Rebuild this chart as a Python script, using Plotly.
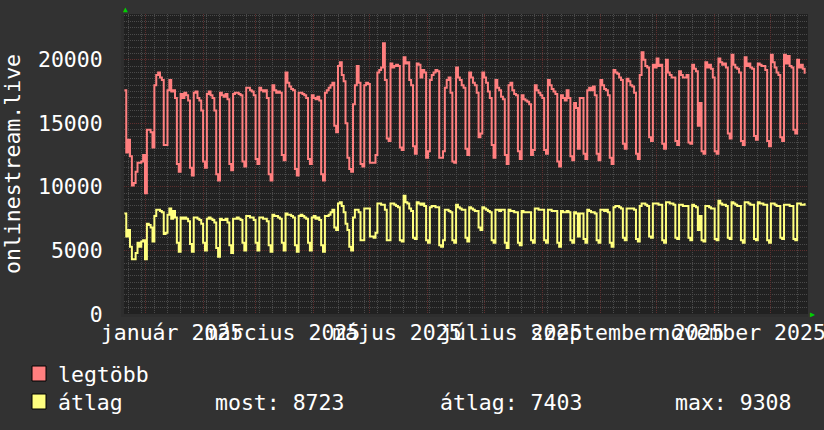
import plotly.graph_objects as go
import pandas as pd

# daily values in thousands, one row per week: Sat, Sun, Mon, Tue, Wed, Thu, Fri
legtobb = [
    17.6, 12.7, 13.7, 12.4, 10.1, 10.3, 11.2,
    11.9, 11.9, 12.0, 12.5, 9.5, 14.5, 14.5,
    14.3, 13.1, 18.0, 18.8, 19.0, 18.6, 18.4,
    13.3, 13.3, 17.6, 18.4, 17.5, 17.6, 17.0,
    11.8, 11.2, 17.3, 17.0, 17.4, 17.2, 16.8,
    11.5, 10.9, 17.4, 17.5, 17.0, 16.8, 16.0,
    12.0, 11.5, 17.3, 17.5, 17.2, 17.0, 16.0,
    11.0, 10.5, 17.4, 17.2, 17.1, 17.3, 16.9,
    11.8, 11.3, 17.3, 17.4, 17.4, 17.3, 17.2,
    12.0, 11.6, 17.8, 17.8, 17.6, 17.5, 17.2,
    12.2, 11.8, 17.8, 17.6, 17.5, 17.6, 17.0,
    11.0, 10.5, 18.0, 17.6, 17.4, 17.5, 17.4,
    12.5, 12.1, 19.0, 18.2, 17.9, 17.7, 17.6,
    11.4, 10.9, 17.4, 17.4, 17.3, 17.2, 17.0,
    12.2, 11.8, 17.2, 17.0, 16.9, 17.1, 16.8,
    11.0, 10.5, 17.4, 17.6, 17.8, 18.0, 18.2,
    14.8, 14.3, 19.5, 19.8, 18.8, 18.3, 15.0,
    12.3, 11.4, 11.2, 16.5, 18.0, 19.5, 18.2,
    11.8, 11.6, 18.0, 18.2, 18.1, 11.9, 11.9,
    11.9, 12.5, 19.0, 19.2, 19.4, 21.3, 18.4,
    13.8, 13.6, 19.7, 19.4, 19.5, 19.6, 19.5,
    13.1, 12.9, 20.2, 19.7, 19.8, 18.4, 18.0,
    13.2, 12.6, 19.7, 19.6, 18.6, 19.2, 19.0,
    12.3, 12.8, 18.4, 18.8, 19.0, 19.2, 19.1,
    12.3, 12.3, 12.8, 17.8, 18.4, 18.6, 17.4,
    12.0, 11.9, 19.4, 18.6, 18.4, 18.0, 17.8,
    13.0, 12.5, 19.0, 18.6, 18.2, 18.0, 17.4,
    13.9, 14.2, 19.0, 18.6, 18.2, 17.5, 17.0,
    13.3, 12.3, 18.4, 17.8, 17.6, 17.1, 16.9,
    12.5, 11.8, 18.0, 18.2, 17.6, 17.3, 17.2,
    12.8, 12.2, 17.2, 16.9, 16.8, 16.7, 16.5,
    12.5, 12.9, 18.0, 17.6, 17.4, 17.2, 17.0,
    12.9, 12.6, 18.4, 18.0, 17.7, 17.5, 17.3,
    12.0, 11.6, 17.2, 17.0, 16.8, 17.6, 17.0,
    12.4, 12.1, 16.6, 16.2, 13.0, 17.0, 17.0,
    12.6, 12.2, 17.6, 17.8, 17.6, 17.9, 17.2,
    12.6, 12.1, 18.4, 18.0, 17.7, 17.6, 17.2,
    12.3, 11.8, 19.2, 19.0, 18.9, 18.6, 18.4,
    13.4, 13.0, 18.5, 18.3, 18.0, 17.9, 17.4,
    12.6, 12.2, 18.8, 20.6, 20.0, 19.5, 19.4,
    13.9, 13.6, 19.6, 19.4, 20.1, 19.5, 19.6,
    13.4, 13.0, 20.0, 19.0, 18.8, 18.6, 18.6,
    13.6, 13.3, 19.1, 18.8, 18.6, 18.6, 18.8,
    13.5, 13.4, 19.6, 19.3, 19.1, 14.8, 16.6,
    12.8, 12.6, 19.8, 19.4, 19.6, 19.3, 18.6,
    12.8, 12.6, 20.1, 19.8, 19.6, 19.7, 19.4,
    14.2, 13.8, 20.4, 19.6, 19.4, 19.3, 19.0,
    13.6, 13.3, 20.2, 19.5, 19.7, 19.4, 19.3,
    14.0, 13.7, 19.7, 19.6, 19.5, 19.5, 19.2,
    13.6, 13.2, 20.4, 19.8, 19.4, 19.0, 18.8,
    13.9, 13.6, 20.4, 19.7, 20.3, 19.5, 19.4,
    14.5, 14.2, 20.0, 19.4, 19.6, 19.3, 18.9,
]

atlag = [
    7.9, 6.1, 6.6, 5.3, 4.3, 4.3, 4.8,
    5.6, 5.3, 5.7, 5.8, 4.3, 7.1, 7.0,
    6.8, 5.7, 7.7, 8.2, 8.2, 8.1, 8.0,
    6.3, 6.4, 7.8, 8.3, 7.5, 8.1, 7.6,
    5.6, 4.9, 7.6, 7.5, 7.6, 7.5, 7.3,
    5.5, 4.9, 7.6, 7.6, 7.5, 7.4, 7.1,
    5.6, 5.0, 7.5, 7.6, 7.5, 7.4, 7.2,
    5.2, 4.5, 7.5, 7.4, 7.4, 7.5, 7.2,
    5.4, 4.8, 7.5, 7.5, 7.6, 7.5, 7.4,
    5.6, 5.0, 7.7, 7.7, 7.6, 7.6, 7.4,
    5.6, 5.0, 7.6, 7.6, 7.5, 7.5, 7.3,
    5.4, 4.9, 7.8, 7.7, 7.7, 7.6, 7.5,
    5.6, 5.0, 7.9, 7.8, 7.8, 7.7, 7.6,
    5.4, 4.9, 7.7, 7.8, 7.7, 7.6, 7.5,
    5.6, 5.0, 7.6, 7.7, 7.5, 7.6, 7.4,
    5.4, 4.9, 7.7, 7.7, 7.8, 8.0, 8.2,
    6.8, 6.6, 8.7, 8.8, 8.5, 8.0, 7.1,
    6.6, 5.3, 5.0, 7.6, 8.2, 8.2, 8.0,
    5.8, 5.8, 8.3, 8.3, 8.3, 6.1, 6.1,
    6.0, 6.4, 8.7, 8.7, 8.6, 8.6, 8.2,
    5.8, 5.8, 8.7, 8.7, 8.6, 8.5, 8.4,
    5.8, 5.7, 9.3, 8.8, 8.7, 8.3, 8.1,
    6.0, 5.9, 8.8, 8.7, 8.6, 8.7, 8.5,
    5.8, 5.6, 8.4, 8.5, 8.5, 8.4, 8.4,
    5.4, 5.3, 5.8, 8.2, 8.2, 8.1, 8.0,
    5.8, 5.6, 8.6, 8.4, 8.3, 8.2, 8.2,
    6.0, 5.7, 8.4, 8.3, 8.2, 8.1, 8.1,
    6.8, 6.6, 8.4, 8.3, 8.2, 8.1, 8.0,
    5.8, 5.6, 8.2, 8.2, 8.1, 8.2, 8.2,
    5.6, 5.2, 8.2, 8.1, 8.1, 8.0, 8.0,
    5.6, 5.4, 8.1, 8.0, 8.0, 8.0, 8.0,
    5.8, 5.6, 8.3, 8.3, 8.2, 8.2, 8.2,
    5.8, 5.6, 8.2, 8.2, 8.1, 8.1, 8.1,
    5.6, 5.3, 8.1, 8.0, 8.0, 8.1, 8.0,
    5.8, 5.6, 8.0, 7.9, 6.1, 7.9, 7.9,
    5.9, 5.6, 8.2, 8.1, 8.0, 8.0, 7.9,
    5.8, 5.6, 8.2, 8.2, 8.1, 8.2, 8.0,
    5.6, 5.3, 8.4, 8.5, 8.5, 8.4, 8.3,
    6.0, 5.8, 8.3, 8.3, 8.3, 8.3, 8.2,
    5.9, 5.7, 8.5, 8.7, 8.7, 8.6, 8.5,
    6.1, 6.0, 8.7, 8.7, 8.7, 8.6, 8.6,
    5.8, 5.6, 8.8, 8.8, 8.7, 8.7, 8.6,
    6.0, 5.9, 8.6, 8.6, 8.5, 8.5, 8.5,
    6.0, 5.8, 8.6, 8.5, 8.4, 6.6, 7.7,
    5.8, 5.7, 8.5, 8.5, 8.4, 8.3, 8.3,
    5.9, 5.8, 8.9, 8.7, 8.6, 8.6, 8.5,
    6.0, 5.9, 8.8, 8.7, 8.6, 8.5, 8.5,
    5.8, 5.6, 8.8, 8.8, 8.7, 8.6, 8.6,
    5.9, 5.8, 8.8, 8.7, 8.7, 8.6, 8.6,
    5.8, 5.6, 8.7, 8.7, 8.6, 8.5, 8.5,
    6.0, 5.9, 8.6, 8.6, 8.6, 8.5, 8.5,
    5.9, 5.8, 8.7, 8.7, 8.6, 8.6, 8.72,
]

start_day = '2024-12-21'
x_range = ['2024-12-20 19:00', '2025-12-20 19:00']
month_starts = pd.date_range('2025-01-01', '2025-12-01', freq='MS')
month_labels = ['január 2025', '', 'március 2025', '', 'május 2025', '', 'július 2025', '',
                'szeptember 2025', '', 'november 2025', '']
stats_text = ['most: 8723', 'átlag: 7403', 'max: 9308']

dates = pd.date_range(start_day, periods=len(legtobb), freq='D')
y_legtobb = [v * 1000 for v in legtobb]
y_atlag = [v * 1000 for v in atlag]

MONO = 'DejaVu Sans Mono'
BG = '#323232'
CANVAS = '#212121'
RED = '#ff7f7f'
YELLOW = '#ffff7f'
MAJOR = '#5e2e2e'
MINOR = '#4a4a4a'
FS = 21.5

# plot box in pixels
L, R, T, B = 124, 808, 14, 314
W, H = R - L, B - T


def paper(x, y):
    return (x - L) / W, (B - y) / H


fig = go.Figure()
fig.add_trace(go.Scatter(x=dates, y=y_legtobb, mode='lines', name='legtöbb',
                         line=dict(color=RED, width=2, shape='hv'), showlegend=False))
fig.add_trace(go.Scatter(x=dates, y=y_atlag, mode='lines', name='átlag',
                         line=dict(color=YELLOW, width=2, shape='hv'), showlegend=False))

fig.update_layout(
    width=824, height=430, autosize=False,
    margin=dict(l=L, r=824 - R, t=T, b=430 - B, pad=0),
    paper_bgcolor=BG, plot_bgcolor=CANVAS,
    font=dict(family=MONO, size=FS, color='white'),
    xaxis=dict(type='date', range=x_range, tickvals=month_starts, ticktext=month_labels,
               tickangle=0, ticks='', ticklen=0, zeroline=False, automargin=False,
               showgrid=True, gridcolor=MAJOR, griddash='1px,1px', gridwidth=1,
               ticklabeloverflow='allow', tickfont=dict(size=FS, color='white'),
               ticklabelshift=27, ticklabelstandoff=-3,
               showline=True, linecolor='#2e2e2e', linewidth=3,
               minor=dict(dtick=7 * 86400000, tick0='2024-12-23', showgrid=True,
                          gridcolor=MINOR, griddash='1px,1px', gridwidth=1)),
    yaxis=dict(range=[0, 23600], dtick=5000, tickformat='d', ticks='', zeroline=False,
               automargin=False,
               showgrid=True, gridcolor=MAJOR, griddash='1px,1px', gridwidth=1,
               showline=True, linecolor='#2e2e2e', linewidth=3,
               ticklabelstandoff=14, tickfont=dict(size=FS, color='white'),
               title=dict(text='onlinestream.live', standoff=14, font=dict(size=FS, color='white')),
               minor=dict(dtick=500, showgrid=True, gridcolor=MINOR,
                          griddash='1px,1px', gridwidth=1)),
)

# rrdtool style axis arrows
ax, ay = paper(125, 10)
fig.add_annotation(x=ax, y=ay, xref='paper', yref='paper', text='▲', showarrow=False,
                   font=dict(size=8, color='#00d000'), xanchor='center', yanchor='middle')
ax, ay = paper(812, 314)
fig.add_annotation(x=ax, y=ay, xref='paper', yref='paper', text='▶', showarrow=False,
                   font=dict(size=8, color='#00d000'), xanchor='center', yanchor='middle')

# legend boxes and texts
for color, top, label in [(RED, 366, 'legtöbb'), (YELLOW, 394, 'átlag')]:
    x0, y1 = paper(32, top)
    x1, y0 = paper(46, top + 15)
    fig.add_shape(type='rect', xref='paper', yref='paper', x0=x0, x1=x1, y0=y0, y1=y1,
                  fillcolor=color, line=dict(color='black', width=1))
    tx, ty = paper(56, top + 8)
    fig.add_annotation(x=tx, y=ty, xref='paper', yref='paper', text=label, showarrow=False,
                       xanchor='left', yanchor='middle', font=dict(size=FS, color='white'))

for left, txt in zip([213, 438, 673], stats_text):
    tx, ty = paper(left, 402)
    fig.add_annotation(x=tx, y=ty, xref='paper', yref='paper', text=txt, showarrow=False,
                       xanchor='left', yanchor='middle', font=dict(size=FS, color='white'))

# the page body has a default margin; drop it so the figure sits at the window corner
fig.write_html("out.html", config={'displayModeBar': False},
               post_script="document.body.style.margin = '0';")
